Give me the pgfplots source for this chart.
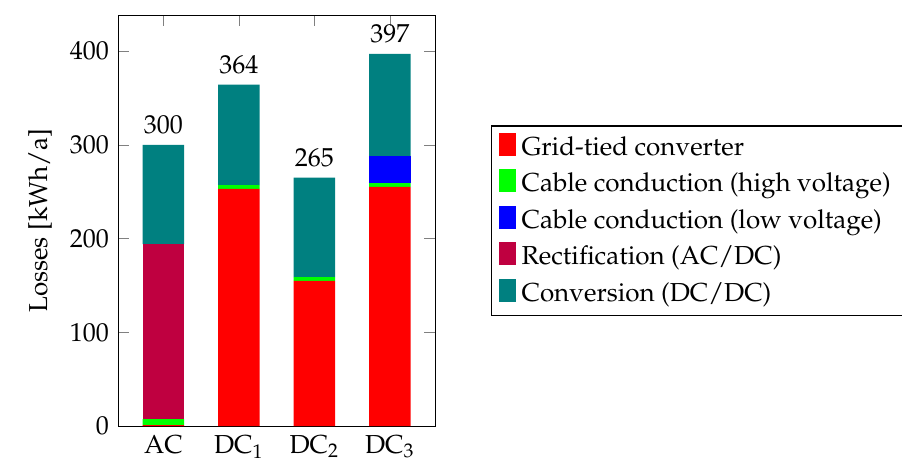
\documentclass[border=0pt]{standalone}
\usepackage[T1]{fontenc}
\usepackage{mathpazo}
\usepackage{pgfplots}
\pgfplotsset{compat=1.18}
\usetikzlibrary{calc}
\begin{document}
\begin{tikzpicture}
\begin{axis}[
  name=ax,
  scale only axis,
  width=122pt, height=158pt,
  ybar stacked,
  bar width=0.55,
  xmin=-0.6, xmax=3.6,
  ymin=0, ymax=438,
  xtick=data,
  xticklabels={AC, DC$_1$, DC$_2$, DC$_3$},
  ytick={0,100,200,300,400},
  ylabel={Losses [kWh/a]},
  legend style={at={($(1,0.5)+(21.5pt,0)$)}, anchor=west, draw=black, font=\normalsize,
     legend cell align=left, row sep=1.3pt},
  legend image code/.code={\fill[#1,draw=none] (0pt,-3pt) rectangle (6.5pt,5.7pt);},
]
\addplot[fill=red, draw=none] coordinates {(0,1) (1,253) (2,155) (3,255)};
\addlegendentry{Grid-tied converter}
\addplot[fill=green, draw=none] coordinates {(0,6.5) (1,4) (2,4) (3,4)};
\addlegendentry{Cable conduction (high voltage)}
\addplot[fill=blue, draw=none] coordinates {(0,0) (1,0) (2,0) (3,29)};
\addlegendentry{Cable conduction (low voltage)}
\addplot[fill=purple, draw=none] coordinates {(0,186.5) (1,0) (2,0) (3,0)};
\addlegendentry{Rectification (AC/DC)}
\addplot[fill=teal, draw=none] coordinates {(0,106) (1,107) (2,106) (3,109)};
\addlegendentry{Conversion (DC/DC)}
\end{axis}
\begin{axis}[
  scale only axis,
  width=122pt, height=158pt,
  xmin=-0.6, xmax=3.6,
  ymin=0, ymax=438,
  hide axis,
]
\addplot[draw=none, mark=none, nodes near coords, point meta=explicit symbolic,
  nodes near coords style={anchor=south, font=\normalsize, text=black, inner sep=4pt}]
  coordinates {(0,300) [300] (1,364) [364] (2,265) [265] (3,397) [397]};
\end{axis}
\pgfresetboundingbox
\path[use as bounding box] ($(ax.south west)+(-45.4pt,-11.9pt)$) rectangle ($(ax.south west)+(301.5pt,163.9pt)$);
\end{tikzpicture}
\end{document}
